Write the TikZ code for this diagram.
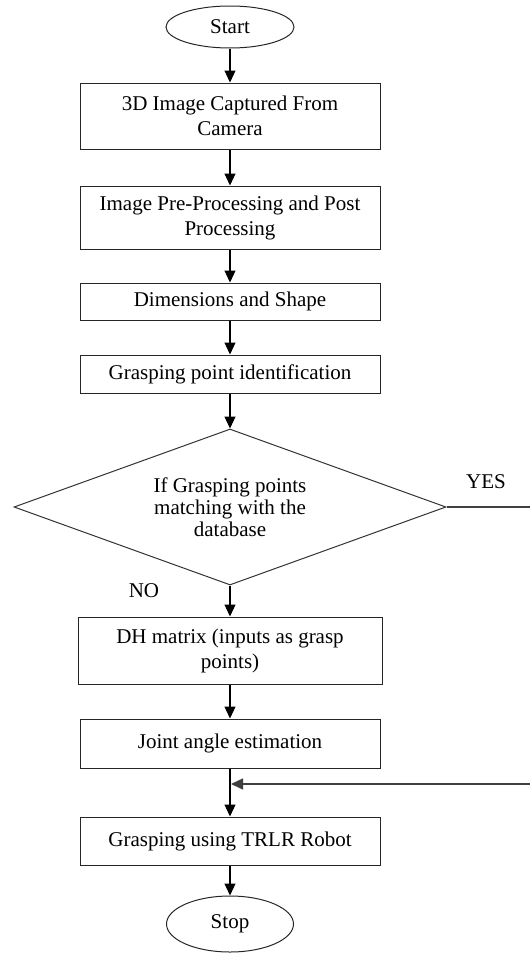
\documentclass[tikz,border=0pt]{standalone}
\usepackage{fontspec}
\setmainfont{Liberation Serif}
\usetikzlibrary{shapes.geometric,arrows.meta}
\begin{document}
\begin{tikzpicture}[x=1pt,y=-1pt,
  every node/.style={font=\fontsize{21}{25}\selectfont},
  box/.style={draw=black!85,line width=1pt,minimum width=300pt,align=center,inner sep=0pt},
  term/.style={draw=black!85,line width=1pt,ellipse,inner sep=0pt},
  dec/.style={draw=black!80,line width=1pt,diamond,aspect=2.77,inner sep=0pt,align=center,font=\fontsize{21}{22}\selectfont},
  arr/.style={draw=black,line width=1.1pt,-{Triangle[length=12pt,width=11pt]}},
  ln/.style={draw=black!75,line width=1.3pt},
  lbl/.style={inner sep=0pt}
]
\useasboundingbox (0,0) rectangle (530,953);
\node[term,minimum width=128pt,minimum height=42pt] (start) at (230,27) {Start};
\node[box,minimum height=66pt] (b1) at (230,116) {3D Image Captured From\\Camera};
\node[box,minimum height=63pt] (b2) at (230,217.5) {Image Pre-Processing and Post\\Processing};
\node[box,minimum height=37pt] (b3) at (230,301.5) {Dimensions and Shape};
\node[box,minimum height=38pt] (b4) at (230,374) {Grasping point identification};
\node[dec,minimum width=432pt,minimum height=156pt] (d) at (230,507) {If Grasping points\\matching with the\\database};
\node[box,minimum height=67pt,minimum width=304pt] (b5) at (230,650.5) {DH matrix (inputs as grasp\\points)};
\node[box,minimum height=49pt] (b6) at (230,743.5) {Joint angle estimation};
\node[box,minimum height=48pt] (b7) at (230,841) {Grasping using TRLR Robot};
\node[term,minimum width=127pt,minimum height=56pt] (stop) at (230,924) {Stop};
\node[lbl] (yes) at (486,482) {YES};
\node[lbl] (no) at (144,591) {NO};
\coordinate (join) at (231,784);
\coordinate (yesend) at (530,507);
\coordinate (backstart) at (530,784);
\draw[arr] (start) -- (b1);
\draw[arr] (b1) -- (b2);
\draw[arr] (b2) -- (b3);
\draw[arr] (b3) -- (b4);
\draw[arr] (b4) -- (d);
\draw[arr] (d) -- (b5);
\draw[arr] (b5) -- (b6);
\draw[arr] (b6) -- (b7);
\draw[arr] (b7) -- (stop);
\draw[ln] (d.east) -- (yesend);
\draw[ln,-{Triangle[length=12pt,width=11pt]}] (backstart) -- (join);
\end{tikzpicture}
\end{document}
